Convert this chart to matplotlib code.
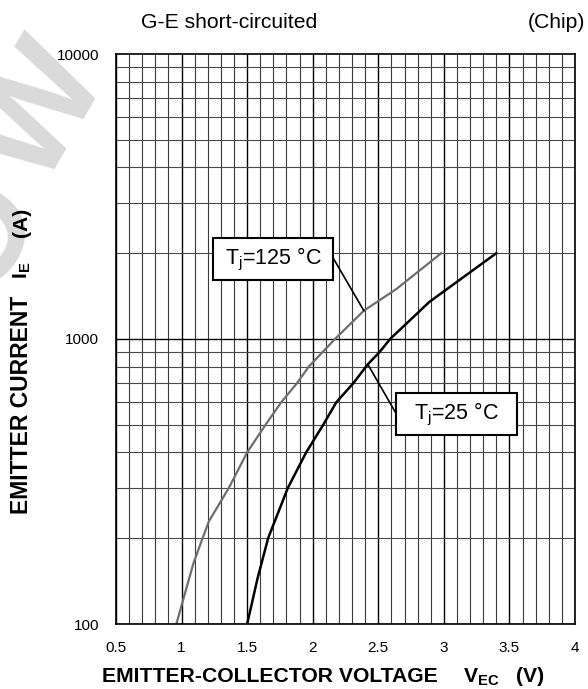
import numpy as np
import matplotlib
matplotlib.use("Agg")
import matplotlib.pyplot as plt
from matplotlib.patches import Rectangle

plt.rcParams['font.family'] = ['Liberation Sans', 'DejaVu Sans']

# Emitter current vs. emitter-collector voltage (free-wheel diode, chip)
v_125 = [0.96, 1.09, 1.16, 1.21, 1.36, 1.50, 1.64, 1.76, 1.88, 1.97, 2.17, 2.39, 2.64, 2.98]
i_125 = [100, 163, 200, 230, 300, 400, 500, 600, 700, 800, 1000, 1257, 1500, 2000]

v_25 = [1.50, 1.58, 1.66, 1.81, 1.95, 2.08, 2.18, 2.31, 2.42, 2.51, 2.59, 2.89, 3.40]
i_25 = [100, 145, 200, 300, 400, 500, 600, 700, 815, 900, 1000, 1350, 2000]

x_ticks = [0.5, 1, 1.5, 2, 2.5, 3, 3.5, 4]
x_tick_labels = ["0.5", "1", "1.5", "2", "2.5", "3", "3.5", "4"]
y_ticks = [100, 1000, 10000]
y_tick_labels = ["100", "1000", "10000"]

fig = plt.figure(figsize=(5.88, 6.89), dpi=100)
W, H = 588, 689


def fx(px):
    return px / W


def fy(py):
    return 1 - py / H


ax = fig.add_axes([fx(116), fy(624), 459 / W, 570 / H])

# faint watermark lettering behind everything
wm = dict(rotation=60, rotation_mode='anchor', fontsize=100, fontweight='bold',
          color='#dadada', ha='center', va='baseline', zorder=-5)
fig.text(fx(76), fy(133), "W", **wm)
fig.text(fx(14), fy(254), "O", **wm)

ax.set_yscale('log')
ax.set_xlim(0.5, 4)
ax.set_ylim(100, 10000)
ax.patch.set_alpha(0)

# grid: every 0.1 V and every 1-2-...-9 step per decade
for xv in np.arange(0.5, 4.001, 0.1):
    major = abs(xv * 2 - round(xv * 2)) < 1e-6
    ax.axvline(xv, color='black' if major else '#3a3a3a',
               lw=1.0 if major else 0.8, zorder=1)
for dec in [100, 1000]:
    for m in range(1, 10):
        ax.axhline(dec * m, color='black' if m == 1 else '#4a4a4a',
                   lw=1.0 if m == 1 else 0.8, zorder=1)

ax.plot(v_125, i_125, color='#6e6e6e', lw=1.6, zorder=3)
ax.plot(v_25, i_25, color='black', lw=1.8, zorder=3)

ax.set_xticks(x_ticks)
ax.set_xticklabels(x_tick_labels)
ax.set_yticks(y_ticks)
ax.set_yticklabels(y_tick_labels)
ax.yaxis.set_minor_locator(matplotlib.ticker.NullLocator())
ax.tick_params(axis='both', length=0, labelsize=11)
ax.tick_params(axis='x', pad=12)
ax.tick_params(axis='y', pad=12)
for s in ax.spines.values():
    s.set_linewidth(1.2)
    s.set_zorder(4)


def label_box(x0, y0, x1, y1, text):
    ax.add_patch(Rectangle((x0, y0), x1 - x0, y1 - y0, transform=ax.transAxes,
                           facecolor='white', edgecolor='black', lw=1.5, zorder=5))
    ax.text((x0 + x1) / 2, (y0 + y1) / 2, text, transform=ax.transAxes,
            ha='center', va='center', fontsize=15.5, zorder=6)


def leader(xy, start):
    ax.annotate("", xy=xy, xycoords='data',
                xytext=start, textcoords='axes fraction',
                arrowprops=dict(arrowstyle='-', color='black', lw=1.2,
                                shrinkA=0, shrinkB=0), zorder=6)


label_box(0.2107, 0.6035, 0.4734, 0.6767, r"T$_{\mathregular{j}}$=125 °C")
leader((v_125[11], i_125[11]), (0.4734, 0.6416))

label_box(0.610, 0.3316, 0.8743, 0.4047, r"T$_{\mathregular{j}}$=25 °C")
leader((v_25[8], i_25[8]), (0.610, 0.3696))

# titles and axis labels
fig.text(fx(141), fy(22), "G-E short-circuited", fontsize=15.2,
         ha='left', va='center')
fig.text(fx(585), fy(22), "(Chip)", fontsize=15.2, ha='right', va='center')

lab = dict(fontsize=15.2, fontweight='bold', va='center')
fig.text(fx(101.7), fy(677), "EMITTER-COLLECTOR VOLTAGE", ha='left', **lab)
fig.text(fx(463), fy(677), r"V$_{\mathregular{EC}}$", ha='left', **lab)
fig.text(fx(516), fy(677), "(V)", ha='left', **lab)

ylab = dict(fontweight='bold', ha='center', va='bottom', rotation=90)
fig.text(fx(22), fy(514), "EMITTER CURRENT", fontsize=16.5, **ylab)
fig.text(fx(22), fy(279), r"I$_{\mathregular{E}}$", fontsize=15.2, **ylab)
fig.text(fx(22), fy(237), "(A)", fontsize=15.2, **ylab)

fig.savefig("out.png", dpi=100)
